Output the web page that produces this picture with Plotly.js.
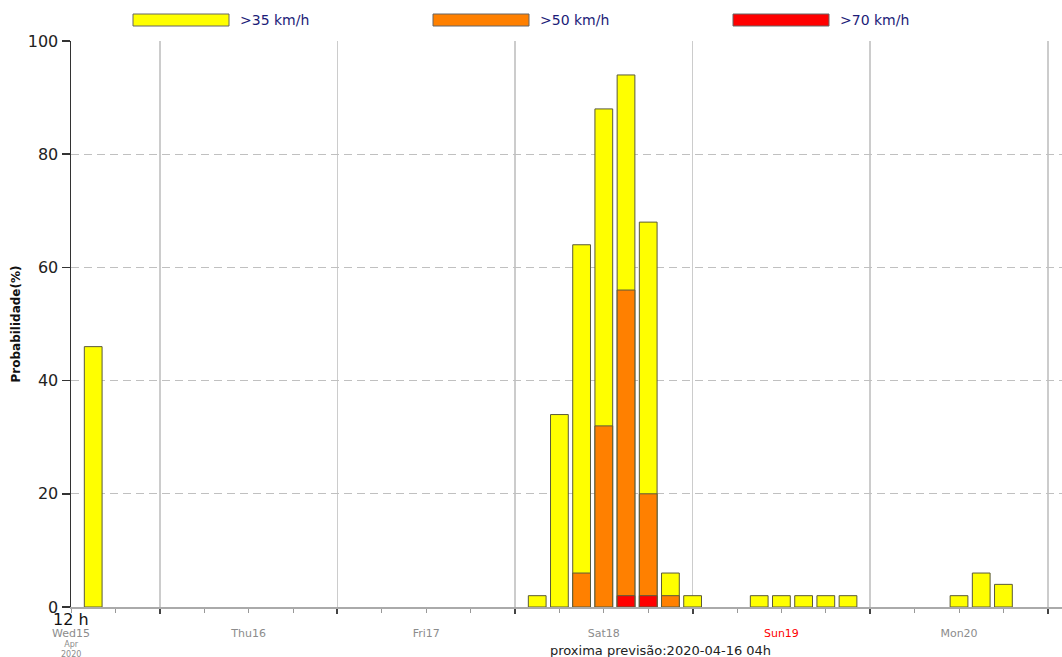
<!DOCTYPE html>
<html>
<head>
<meta charset="utf-8">
<script src="https://cdn.plot.ly/plotly-3.0.1.min.js"></script>
<style>html,body{margin:0;padding:0;background:#fff;}#chart{width:1062px;height:657px;}</style>
</head>
<body>
<div id="chart"></div>
<script>
// Forecast times (3-hourly slots with non-zero probability)
var times = [
  '2020-04-15 15:00',
  '2020-04-18 03:00','2020-04-18 06:00','2020-04-18 09:00','2020-04-18 12:00',
  '2020-04-18 15:00','2020-04-18 18:00','2020-04-18 21:00','2020-04-19 00:00',
  '2020-04-19 09:00','2020-04-19 12:00','2020-04-19 15:00','2020-04-19 18:00','2020-04-19 21:00',
  '2020-04-20 12:00','2020-04-20 15:00','2020-04-20 18:00'
];
// Probability (%) of gusts above each threshold
var p35 = [46, 2, 34, 64, 88, 94, 68, 6, 2, 2, 2, 2, 2, 2, 2, 6, 4];
var p50 = [0, 0, 0, 6, 32, 56, 20, 2, 0, 0, 0, 0, 0, 0, 0, 0, 0];
var p70 = [0, 0, 0, 0, 0, 2, 2, 0, 0, 0, 0, 0, 0, 0, 0, 0, 0];

var seriesNames = ['>35 km/h', '>50 km/h', '>70 km/h'];
var seriesColors = ['#ffff00', '#ff8000', '#ff0000'];

var dayTicks = ['2020-04-15 12:00','2020-04-16 12:00','2020-04-17 12:00','2020-04-18 12:00','2020-04-19 12:00','2020-04-20 12:00'];
var dayLabels = ['Wed15','Thu16','Fri17','Sat18','Sun19','Mon20'];
var dayBounds = ['2020-04-16','2020-04-17','2020-04-18','2020-04-19','2020-04-20','2020-04-21'];
var yTicks = [0, 20, 40, 60, 80, 100];

var FONT = 'DejaVu Sans, Verdana, sans-serif';
var BAR_W = 2.4 * 3600 * 1000;

function nz(a){ return a.map(function(v){ return v === 0 ? null : v; }); }

var data = [p35, p50, p70].map(function(vals, i){
  return {
    type: 'bar', x: times, y: nz(vals), name: seriesNames[i],
    width: BAR_W,
    marker: {color: seriesColors[i], line: {color: '#5a5a3a', width: 1}},
    showlegend: false, xaxis: 'x', yaxis: 'y'
  };
});
// dummy trace to activate label axis
data.push({type:'scatter', x:[dayTicks[0]], y:[null], xaxis:'x2', yaxis:'y', showlegend:false, hoverinfo:'skip'});

var tickText = dayLabels.map(function(d){
  if (d.indexOf('Sun') === 0) return '<span style="color:#ff0000">' + d + '</span>';
  return d;
});

var xr = ['2020-04-15 12:00', '2020-04-21 01:55'];

// legend swatches drawn in pixel positions converted to paper coords
var L = 71, R = 1062, T = 41, B = 607;
function px(x){ return (x - L) / (R - L); }
function py(y){ return (B - y) / (B - T); }
var swX = [133, 433, 733];
var shapes = [], annotations = [];
swX.forEach(function(x0, i){
  shapes.push({type:'rect', xref:'paper', yref:'paper', x0:px(x0), x1:px(x0+96), y0:py(26), y1:py(14),
    fillcolor: seriesColors[i], line:{color:'#666', width:1}});
  annotations.push({xref:'paper', yref:'paper', x:px(x0+105), y:py(20), xanchor:'left', yanchor:'middle',
    text: seriesNames[i], showarrow:false, font:{family:FONT, size:14, color:'#1c1c78'}});
});
annotations.push({xref:'x', yref:'paper', x:'2020-04-15 12:00', y:py(619), xanchor:'center', yanchor:'middle',
  text:'12 h', showarrow:false, font:{family:FONT, size:16, color:'#111'}});
annotations.push({xref:'x', yref:'paper', x:'2020-04-15 12:00', y:py(639), xanchor:'center', yanchor:'top',
  text:'Apr<br>2020', showarrow:false, font:{family:FONT, size:8, color:'#8c8c8c'}, borderpad:0});
annotations.push({xref:'paper', yref:'paper', x:px(660), y:py(650), xanchor:'center', yanchor:'middle',
  text:'proxima previsão:2020-04-16 04h', showarrow:false, font:{family:FONT, size:13, color:'#222'}});

var layout = {
  width: 1062, height: 657,
  margin: {l: L, r: 1062 - R, t: T, b: 657 - B, pad: 0},
  paper_bgcolor: '#fff', plot_bgcolor: '#fff',
  barmode: 'overlay',
  showlegend: false,
  font: {family: FONT},
  xaxis: {
    type: 'date', range: xr,
    tickvals: dayBounds, showticklabels: false,
    ticks: 'outside', ticklen: 5, tickwidth: 2, tickcolor: '#444',
    showgrid: true, gridcolor: '#cccccc', gridwidth: 1.5,
    minor: {dtick: 6*3600*1000, tick0: '2020-04-15', ticks: 'outside', ticklen: 4, tickcolor: '#999', tickwidth: 1, showgrid: false},
    showline: true, linecolor: '#aaaaaa', linewidth: 1.5,
    zeroline: false, fixedrange: true
  },
  xaxis2: {
    type: 'date', range: xr, overlaying: 'x', side: 'bottom', anchor: 'y',
    tickmode: 'array', tickvals: dayTicks, ticktext: tickText,
    ticks: '', showgrid: false, showline: false, zeroline: false,
    ticklabelstandoff: 18,
    tickfont: {family: FONT, size: 11, color: '#8c8c8c'}
  },
  yaxis: {
    range: [0, 100], tickvals: yTicks,
    ticks: 'outside', ticklen: 8, tickcolor: '#333', tickwidth: 1.5,
    tickfont: {family: FONT, size: 16, color: '#222'},
    showgrid: true, gridcolor: '#c0c0c0', gridwidth: 1, griddash: '8px,5px',
    showline: true, linecolor: '#333', linewidth: 1.5,
    zeroline: false,
    title: {text: '<b>Probabilidade(%)</b>', font: {family: FONT, size: 12, color: '#111'}, standoff: 4}
  },
  shapes: shapes,
  annotations: annotations
};

Plotly.newPlot('chart', data, layout, {displayModeBar: false, staticPlot: true});
</script>
</body>
</html>
